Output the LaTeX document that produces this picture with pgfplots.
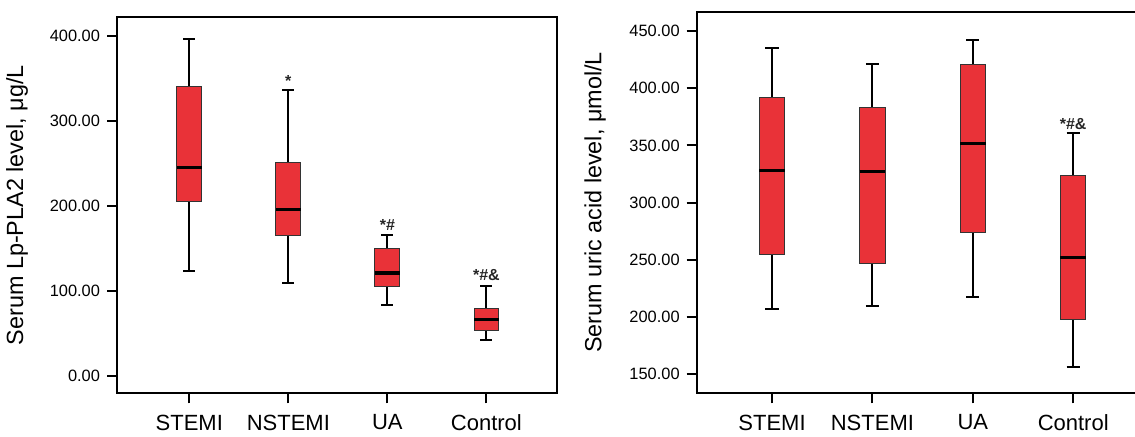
\documentclass[border=0pt]{standalone}
\usepackage{fontspec}
\setmainfont{Liberation Sans}
\usepackage{pgfplots}
\pgfplotsset{compat=1.18}

\definecolor{boxred}{RGB}{233,50,56}

\pgfplotsset{
  panel/.style={
    scale only axis,
    axis line style={line width=1pt},
    xtick={1,2,3,4},
    xticklabels={STEMI,NSTEMI,UA,Control},
    xtick pos=left, ytick pos=left,
    tick align=outside,
    major tick length=5pt,
    every tick/.style={line width=1pt,black},
    xticklabel style={font=\fontsize{11}{12}\selectfont, yshift=-4.5pt, inner sep=1pt},
    yticklabel style={font=\fontsize{8.2}{9}\selectfont,
      /pgf/number format/fixed, /pgf/number format/fixed zerofill,
      /pgf/number format/precision=2, /pgf/number format/assume math mode=true},
    ylabel style={font=\fontsize{11.7}{13}\selectfont},
  },
  whisk/.style={black, line width=1pt, mark=none, unbounded coords=jump},
  boxs/.style={draw=black!80, fill=boxred, line width=0.5pt, mark=none},
  med/.style={black, line width=1.6pt, mark=none},
}
\tikzset{sig/.style={font=\fontsize{8}{9}\selectfont\bfseries, text=black!85}}

\begin{document}
\begin{tikzpicture}

% left panel: Lp-PLA2 (whiskers, box q1-q3, median)
\begin{axis}[panel,
  at={(58.5pt,-196.65pt)}, anchor=south west,
  width=219.85pt, height=188pt,
  xmin=0.27, xmax=4.71,
  ymin=-20.8, ymax=422,
  ytick={0,100,200,300,400},
  ylabel={Serum Lp-PLA2 level, μg/L},
  ylabel shift=4pt,
]
% STEMI
\addplot[whisk] coordinates {(0.94,397) (1.06,397) (nan,nan) (1,397) (1,123) (nan,nan) (0.94,123) (1.06,123)};
\addplot[boxs] coordinates {(0.875,205) (1.125,205) (1.125,341) (0.875,341)} --cycle;
\addplot[med] coordinates {(0.875,245) (1.125,245)};
% NSTEMI
\addplot[whisk] coordinates {(1.94,336) (2.06,336) (nan,nan) (2,336) (2,109) (nan,nan) (1.94,109) (2.06,109)};
\addplot[boxs] coordinates {(1.875,165) (2.125,165) (2.125,251) (1.875,251)} --cycle;
\addplot[med] coordinates {(1.875,196) (2.125,196)};
% UA
\addplot[whisk] coordinates {(2.94,166) (3.06,166) (nan,nan) (3,166) (3,83) (nan,nan) (2.94,83) (3.06,83)};
\addplot[boxs] coordinates {(2.875,105) (3.125,105) (3.125,150) (2.875,150)} --cycle;
\addplot[med] coordinates {(2.875,121) (3.125,121)};
% Control
\addplot[whisk] coordinates {(3.94,105) (4.06,105) (nan,nan) (4,105) (4,42) (nan,nan) (3.94,42) (4.06,42)};
\addplot[boxs] coordinates {(3.875,53) (4.125,53) (4.125,79) (3.875,79)} --cycle;
\addplot[med] coordinates {(3.875,66) (4.125,66)};
\node[sig] at (axis cs:2,347) {*};
\node[sig] at (axis cs:3,178) {*\#};
\node[sig] at (axis cs:4,119) {*\#\&};
\end{axis}

% right panel: uric acid
\begin{axis}[panel,
  at={(348.35pt,-196.65pt)}, anchor=south west,
  width=225.9pt, height=190.8pt,
  xmin=0.25, xmax=4.75,
  ymin=133.4, ymax=466.9,
  ytick={150,200,250,300,350,400,450},
  ylabel={Serum uric acid level, μmol/L},
  ylabel shift=5pt,
]
% STEMI
\addplot[whisk] coordinates {(0.935,435) (1.065,435) (nan,nan) (1,435) (1,207) (nan,nan) (0.935,207) (1.065,207)};
\addplot[boxs] coordinates {(0.873,255) (1.127,255) (1.127,392) (0.873,392)} --cycle;
\addplot[med] coordinates {(0.873,328) (1.127,328)};
% NSTEMI
\addplot[whisk] coordinates {(1.935,421) (2.065,421) (nan,nan) (2,421) (2,210) (nan,nan) (1.935,210) (2.065,210)};
\addplot[boxs] coordinates {(1.873,247) (2.127,247) (2.127,383) (1.873,383)} --cycle;
\addplot[med] coordinates {(1.873,327) (2.127,327)};
% UA
\addplot[whisk] coordinates {(2.935,442) (3.065,442) (nan,nan) (3,442) (3,218) (nan,nan) (2.935,218) (3.065,218)};
\addplot[boxs] coordinates {(2.873,274) (3.127,274) (3.127,421) (2.873,421)} --cycle;
\addplot[med] coordinates {(2.873,352) (3.127,352)};
% Control
\addplot[whisk] coordinates {(3.935,361) (4.065,361) (nan,nan) (4,361) (4,156) (nan,nan) (3.935,156) (4.065,156)};
\addplot[boxs] coordinates {(3.873,198) (4.127,198) (4.127,324) (3.873,324)} --cycle;
\addplot[med] coordinates {(3.873,252) (4.127,252)};
\node[sig] at (axis cs:4,369) {*\#\&};
\end{axis}
\pgfresetboundingbox
\useasboundingbox (0,0) rectangle (567.5pt,-218pt);
\end{tikzpicture}
\end{document}
